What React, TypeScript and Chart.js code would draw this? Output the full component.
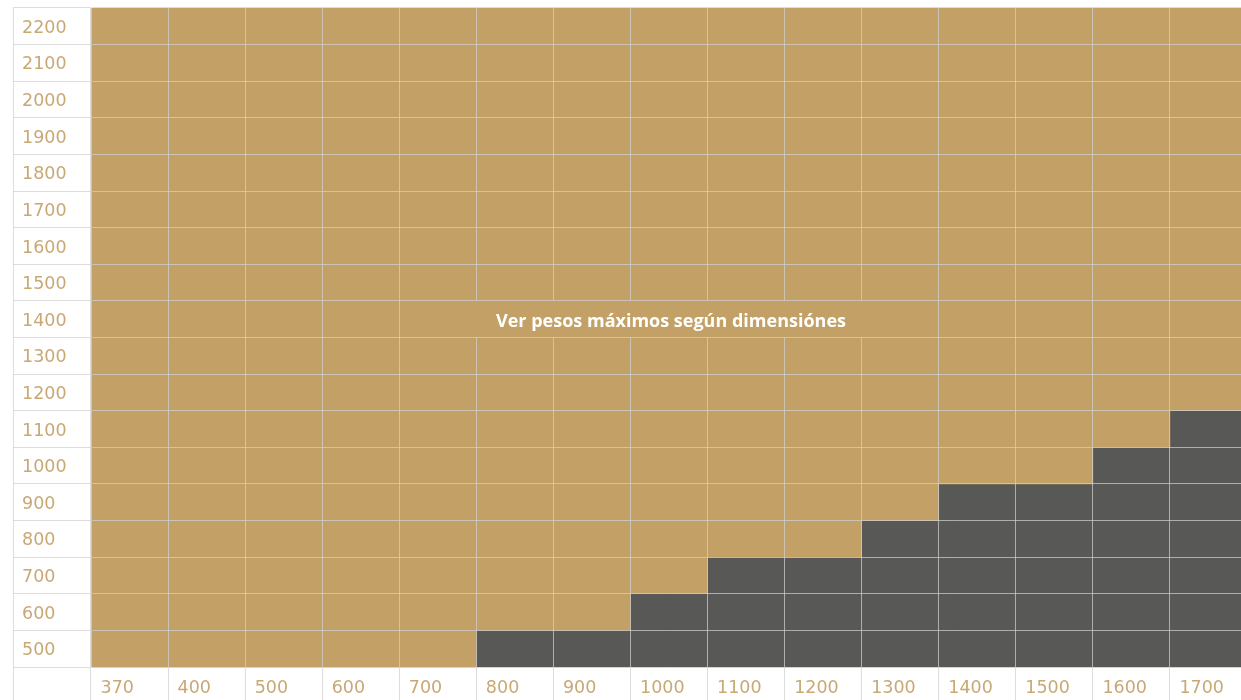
import React, { useEffect, useRef } from "react";
import { Chart, registerables } from "chart.js";

Chart.register(...registerables);

// Column categories (width, mm)
const xLabels = ["370", "400", "500", "600", "700", "800", "900", "1000", "1100", "1200", "1300", "1400", "1500", "1600", "1700"];
// Row categories (height, mm), top to bottom
const yLabels = ["2200", "2100", "2000", "1900", "1800", "1700", "1600", "1500", "1400", "1300", "1200", "1100", "1000", "900", "800", "700", "600", "500"];
// Highest row shown dark for each column (0 = no dark cells)
const darkUpTo = [0, 0, 0, 0, 0, 500, 500, 600, 700, 700, 800, 900, 900, 1000, 1100];
// Merged caption cell
const captionText = "Ver pesos máximos según dimensiónes";
const captionRow = 1400;
const captionFromCol = "700";
const captionToCol = "1300";

const ROW_MIN = 500;
const ROW_MAX = 2200;
const ROW_STEP = 100;

const GOLD = "#c3a166";
const DARK = "#585857";
const TEXT = "#c8a874";
const GRID = "rgba(208,208,208,0.72)";
const TICK_FONT = { family: "DejaVu Sans", size: 17.5, weight: "normal" as const };

export default function App() {
  const ref = useRef<HTMLCanvasElement | null>(null);

  useEffect(() => {
    if (!ref.current) return;
    const half = ROW_STEP / 2;
    const goldData = xLabels.map((_, i) => [darkUpTo[i] ? darkUpTo[i] + half : ROW_MIN - half, ROW_MAX + half]);
    const darkData = xLabels.map((_, i) => (darkUpTo[i] ? [ROW_MIN - half, darkUpTo[i] + half] : null));

    const overlay = {
      id: "overlay",
      afterDraw(chart: any) {
        const ctx = chart.ctx;
        const xs = chart.scales.x;
        const yv = chart.scales.yv;
        const area = chart.chartArea;
        ctx.save();
        // outer left border of label column
        ctx.strokeStyle = GRID;
        ctx.lineWidth = 1;
        ctx.beginPath();
        ctx.moveTo(13.5, area.top);
        ctx.lineTo(13.5, chart.height);
        ctx.stroke();
        // merged caption cell: hide inner vertical grid lines
        const colW = xs.width / xLabels.length;
        const fromIdx = xLabels.indexOf(captionFromCol);
        const toIdx = xLabels.indexOf(captionToCol);
        const ta = Math.round(yv.getPixelForValue(captionRow + half) - 0.5);
        const ba = Math.round(yv.getPixelForValue(captionRow - half) - 0.5);
        ctx.fillStyle = GOLD;
        for (let i = fromIdx + 1; i <= toIdx; i++) {
          const px = Math.round(xs.getPixelForValue(i) - colW / 2 - 0.5);
          ctx.fillRect(px - 1, ta + 1, 3, ba - ta - 1);
        }
        const l = xs.getPixelForValue(fromIdx) - colW / 2;
        const r = xs.getPixelForValue(toIdx) + colW / 2;
        ctx.fillStyle = "#ffffff";
        ctx.font = "bold 18px 'Open Sans'";
        ctx.textAlign = "center";
        ctx.textBaseline = "middle";
        ctx.fillText(captionText, (l + r) / 2 + 2, (ta + ba) / 2 + 3);
        ctx.restore();
      },
    };

    const chart = new Chart(ref.current, {
      type: "bar",
      data: {
        labels: xLabels,
        datasets: [
          {
            label: "gold",
            data: goldData as any,
            backgroundColor: GOLD,
            borderWidth: 0,
            grouped: false,
            barPercentage: 1,
            categoryPercentage: 1,
            yAxisID: "yv",
          },
          {
            label: "dark",
            data: darkData as any,
            backgroundColor: DARK,
            borderWidth: 0,
            grouped: false,
            barPercentage: 1,
            categoryPercentage: 1,
            yAxisID: "yv",
          },
        ],
      },
      options: {
        animation: false,
        responsive: false,
        devicePixelRatio: 1,
        layout: { padding: { left: 22, top: 8, right: 3, bottom: 0 } },
        plugins: { legend: { display: false }, tooltip: { enabled: false } },
        scales: {
          x: {
            type: "category",
            position: "bottom",
            offset: true,
            grid: { offset: true, z: 1, color: GRID, tickLength: 37, tickColor: GRID, drawTicks: true },
            border: { color: GRID, z: 1 },
            ticks: {
              color: TEXT,
              font: TICK_FONT,
              align: "start",
              labelOffset: -29,
              padding: -26,
              autoSkip: false,
              maxRotation: 0,
              minRotation: 0,
            },
            afterFit(scale: any) {
              scale.height = 37;
              scale.paddingLeft = 0;
              scale.paddingRight = 0;
            },
          },
          y: {
            type: "category",
            position: "left",
            labels: yLabels,
            offset: true,
            grid: { offset: true, z: 1, color: GRID, tickLength: 78, tickColor: GRID, drawTicks: true },
            border: { color: GRID, z: 1 },
            ticks: {
              color: TEXT,
              font: TICK_FONT,
              crossAlign: "far",
              labelOffset: 2,
              autoSkip: false,
            },
            afterFit(scale: any) {
              scale.width = 69;
              scale.paddingTop = 0;
              scale.paddingBottom = 0;
            },
          },
          yv: {
            type: "linear",
            display: false,
            min: ROW_MIN - ROW_STEP / 2,
            max: ROW_MAX + ROW_STEP / 2,
          },
        },
      } as any,
      plugins: [overlay],
    });
    return () => chart.destroy();
  }, []);

  return (
    <div style={{ position: "fixed", left: 0, top: 0, width: 1250, height: 704, background: "#fff" }}>
      <canvas ref={ref} width={1250} height={704} style={{ display: "block" }} />
    </div>
  );
}
